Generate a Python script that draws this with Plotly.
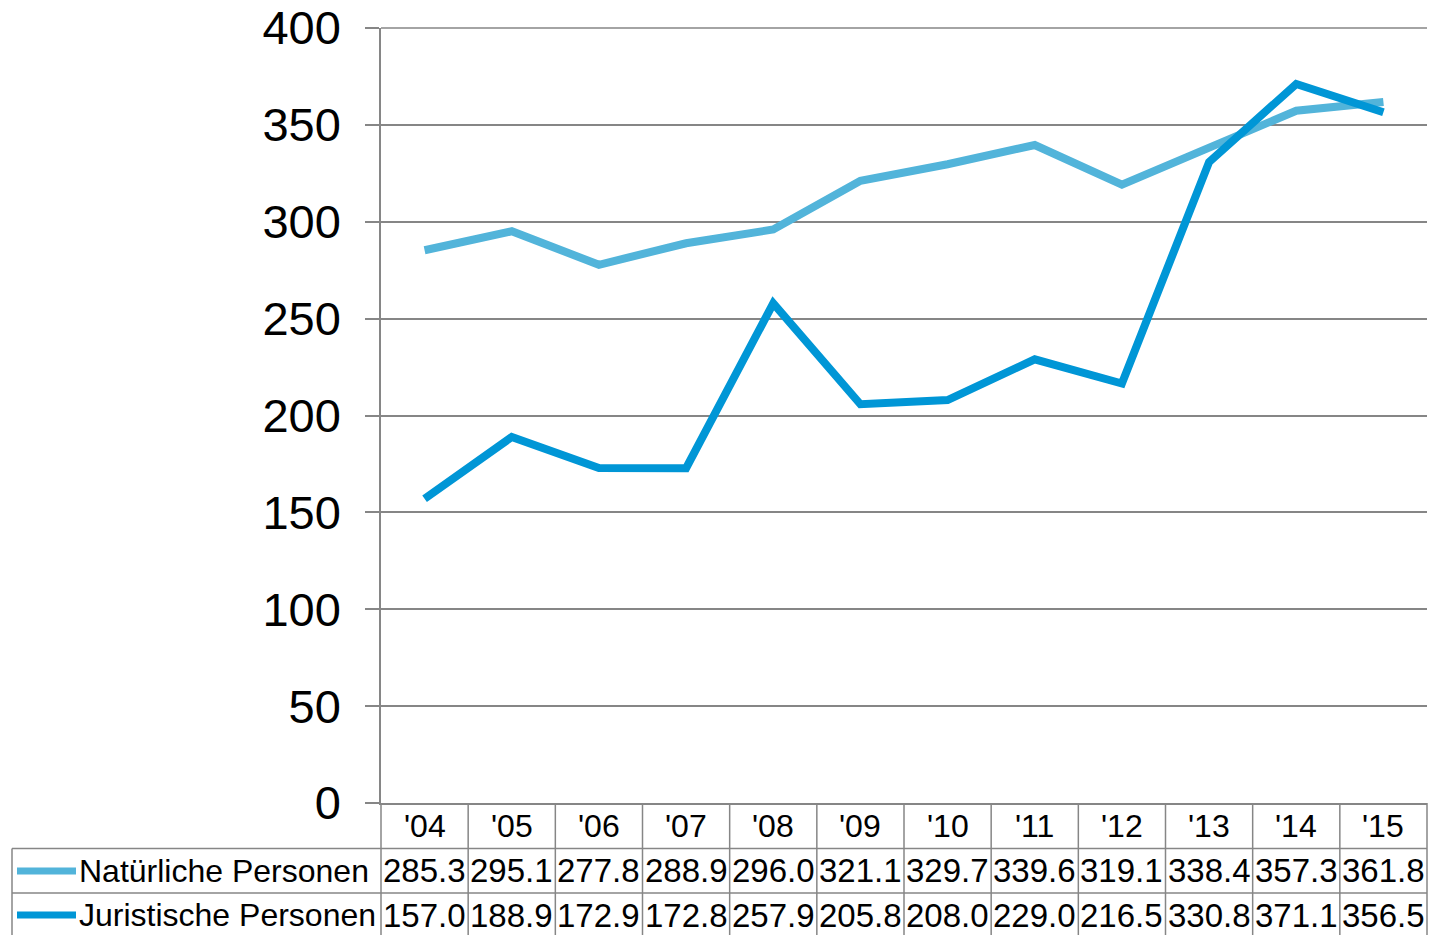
import plotly.graph_objects as go

categories = ["'04", "'05", "'06", "'07", "'08", "'09", "'10", "'11", "'12", "'13", "'14", "'15"]
natuerliche = [285.3, 295.1, 277.8, 288.9, 296.0, 321.1, 329.7, 339.6, 319.1, 338.4, 357.3, 361.8]
juristische = [157.0, 188.9, 172.9, 172.8, 257.9, 205.8, 208.0, 229.0, 216.5, 330.8, 371.1, 356.5]
series_names = ["Natürliche Personen", "Juristische Personen"]
series_values = [natuerliche, juristische]
series_colors = ["#52B4DA", "#0096D6"]
y_ticks = [0, 50, 100, 150, 200, 250, 300, 350, 400]

# page body has an 8px margin and clips at its right edge; work in reference pixels
OFF = 8
W, H = 1436 - 2 * OFF, 935 - OFF
L, R, T = 381 - OFF, 1, 28 - OFF
B = H - (803 - OFF)
plot_w = W - L - R
plot_h = H - T - B
GRID = "#868686"
FONT = "Liberation Sans, Arial, sans-serif"

def px_to_paper_x(px):
    return (px - OFF - L) / plot_w

def px_to_paper_y(py):
    return (H - B - (py - OFF)) / plot_h

fig = go.Figure()
idx = list(range(len(categories)))
for name, vals, col in zip(series_names, series_values, series_colors):
    fig.add_trace(go.Scatter(x=idx, y=vals, mode="lines", name=name,
                             line=dict(color=col, width=8), showlegend=False))

shapes = []
annotations = []
n = len(categories)
y_axis = px_to_paper_y(803)
y_hdr = px_to_paper_y(848.5)
y_r1 = px_to_paper_y(893)
y_r2 = px_to_paper_y(940)
x_left = px_to_paper_x(12)

line_style = dict(color=GRID, width=1.5)
shapes.append(dict(type="line", xref="paper", yref="paper", x0=0, x1=1, y0=1, y1=1,
                   line=line_style, layer="below"))
for i in range(n + 1):
    xp = i / n
    shapes.append(dict(type="line", xref="paper", yref="paper", x0=xp, x1=xp,
                       y0=y_axis, y1=y_r2, line=line_style))
for yy in (y_hdr, y_r1):
    shapes.append(dict(type="line", xref="paper", yref="paper", x0=x_left, x1=1,
                       y0=yy, y1=yy, line=line_style))
shapes.append(dict(type="line", xref="paper", yref="paper", x0=x_left, x1=x_left,
                   y0=y_hdr, y1=y_r2, line=line_style))

for i, c in enumerate(categories):
    annotations.append(dict(x=i, xref="x", y=px_to_paper_y(826), yref="paper",
                            text=c, showarrow=False, xanchor="center", yanchor="middle",
                            font=dict(family=FONT, size=32, color="#000000")))
rows = [px_to_paper_y(871), px_to_paper_y(915)]
for r, (name, vals, col) in enumerate(zip(series_names, series_values, series_colors)):
    yc = rows[r]
    for i, v in enumerate(vals):
        annotations.append(dict(x=i, xref="x", y=yc, yref="paper",
                                text=f"{v:.1f}", showarrow=False, xanchor="center",
                                yanchor="middle",
                                font=dict(family=FONT, size=33, color="#000000")))
    shapes.append(dict(type="line", xref="paper", yref="paper",
                       x0=px_to_paper_x(17), x1=px_to_paper_x(76), y0=yc, y1=yc,
                       line=dict(color=col, width=7)))
    annotations.append(dict(x=px_to_paper_x(77), xref="paper", y=yc, yref="paper",
                            text=name, showarrow=False, xanchor="left", yanchor="middle",
                            font=dict(family=FONT, size=32, color="#000000")))

fig.update_layout(
    width=W, height=H,
    margin=dict(l=L, r=R, t=T, b=B, pad=0, autoexpand=False),
    paper_bgcolor="white", plot_bgcolor="white",
    shapes=shapes, annotations=annotations,
    xaxis=dict(range=[-0.5, n - 0.5], showticklabels=False, showgrid=False,
               zeroline=False, showline=True, linecolor=GRID, linewidth=1.5,
               ticks="", fixedrange=True, automargin=False),
    yaxis=dict(range=[0, 400], tickvals=y_ticks, showgrid=True, gridcolor=GRID,
               gridwidth=1.5, zeroline=False, showline=True, linecolor=GRID,
               linewidth=1.5, ticks="outside", ticklen=14, tickcolor=GRID,
               tickwidth=1.5, ticklabelstandoff=15, ticklabeloverflow="allow",
               automargin=False,
               tickfont=dict(family=FONT, size=47, color="#000000"), fixedrange=True),
)

fig.write_html("out.html")
